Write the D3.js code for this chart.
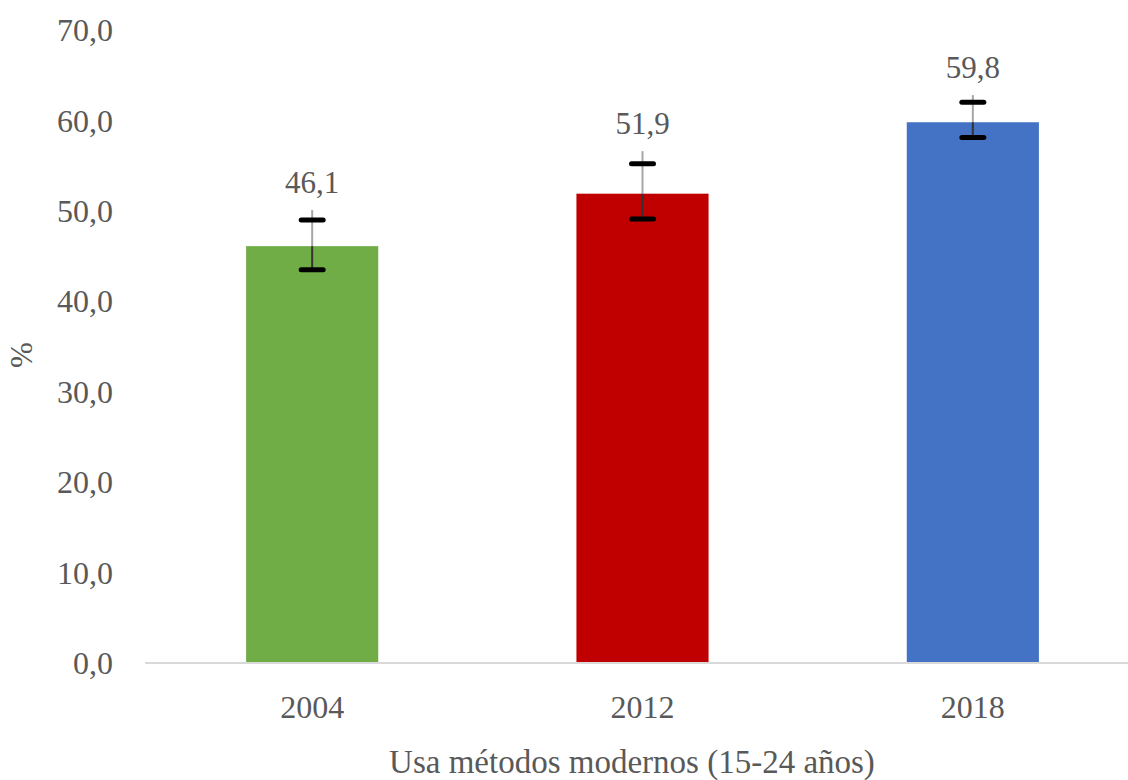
<!DOCTYPE html>
<html>
<head>
<meta charset="utf-8">
<script src="https://cdn.jsdelivr.net/npm/d3@7"></script>
<style>
  body { margin: 0; background: #fff; }
  text { font-family: "Liberation Serif", "DejaVu Serif", serif; fill: #595959; }
</style>
</head>
<body>
<svg id="chart" width="1128" height="780"></svg>
<script>
const years = ['2004', '2012', '2018'];
const values = [46.1, 51.9, 59.8];
const colors = ['#70AD47', '#C00000', '#4472C4'];
// error bars: lower cap, upper cap, top of the whisker line
const errLow = [43.5, 49.1, 58.1];
const errHigh = [49.0, 55.2, 62.0];
const errTop = [50.1, 56.6, 62.8];
const yTicks = [0, 10, 20, 30, 40, 50, 60, 70];

const svg = d3.select('#chart');
const fmt = v => d3.format('.1f')(v).replace('.', ',');

const y = d3.scaleLinear().domain([0, 70]).range([663, 30]);
const x = d3.scaleBand().domain(years).range([147, 1138]).paddingInner(0.6).paddingOuter(0.3);

const rows = years.map((year, i) => ({
    year, value: values[i], color: colors[i],
    lo: errLow[i], hi: errHigh[i], top: errTop[i],
}));

// y tick labels
svg.append('g')
    .selectAll('text')
    .data(yTicks)
    .enter()
    .append('text')
    .attr('x', 113)
    .attr('y', d => y(d))
    .attr('dy', '0.35em')
    .attr('text-anchor', 'end')
    .style('font-size', '32px')
    .text(fmt);

// bars
svg.append('g')
    .selectAll('rect')
    .data(rows)
    .enter()
    .append('rect')
    .attr('x', d => x(d.year))
    .attr('y', d => y(d.value))
    .attr('width', x.bandwidth())
    .attr('height', d => y(0) - y(d.value))
    .attr('fill', d => d.color);

// baseline
svg.append('line')
    .attr('x1', 145)
    .attr('x2', 1128)
    .attr('y1', y(0))
    .attr('y2', y(0))
    .attr('stroke', '#d9d9d9')
    .attr('stroke-width', 2);

// error bars
const err = svg.append('g')
    .selectAll('g')
    .data(rows)
    .enter()
    .append('g')
    .attr('transform', d => `translate(${x(d.year) + x.bandwidth() / 2}, 0)`);

err.append('line') // whisker above the bar
    .attr('y1', d => y(d.top))
    .attr('y2', d => y(d.value))
    .attr('stroke', '#a6a6a6')
    .attr('stroke-width', 2);

err.append('line') // whisker inside the bar
    .attr('y1', d => y(d.value))
    .attr('y2', d => y(d.lo))
    .attr('stroke', '#333')
    .attr('stroke-width', 2);

err.selectAll('.cap')
    .data(d => [d.hi, d.lo])
    .enter()
    .append('line')
    .classed('cap', true)
    .attr('x1', -11)
    .attr('x2', 11)
    .attr('y1', d => y(d))
    .attr('y2', d => y(d))
    .attr('stroke', '#000')
    .attr('stroke-width', 5)
    .attr('stroke-linecap', 'round');

// value labels
svg.append('g')
    .selectAll('text')
    .data(rows)
    .enter()
    .append('text')
    .attr('x', d => x(d.year) + x.bandwidth() / 2)
    .attr('y', d => y(d.top) - 17)
    .attr('text-anchor', 'middle')
    .style('font-size', '31px')
    .text(d => fmt(d.value));

// x tick labels
svg.append('g')
    .selectAll('text')
    .data(years)
    .enter()
    .append('text')
    .attr('x', d => x(d) + x.bandwidth() / 2)
    .attr('y', 718)
    .attr('text-anchor', 'middle')
    .style('font-size', '32px')
    .text(d => d);

// axis titles
svg.append('text')
    .attr('x', 632)
    .attr('y', 773)
    .attr('text-anchor', 'middle')
    .style('font-size', '33px')
    .text('Usa métodos modernos (15-24 años)');

svg.append('text')
    .attr('transform', 'translate(32, 355) rotate(-90)')
    .attr('text-anchor', 'middle')
    .style('font-size', '31px')
    .text('%');
</script>
</body>
</html>
